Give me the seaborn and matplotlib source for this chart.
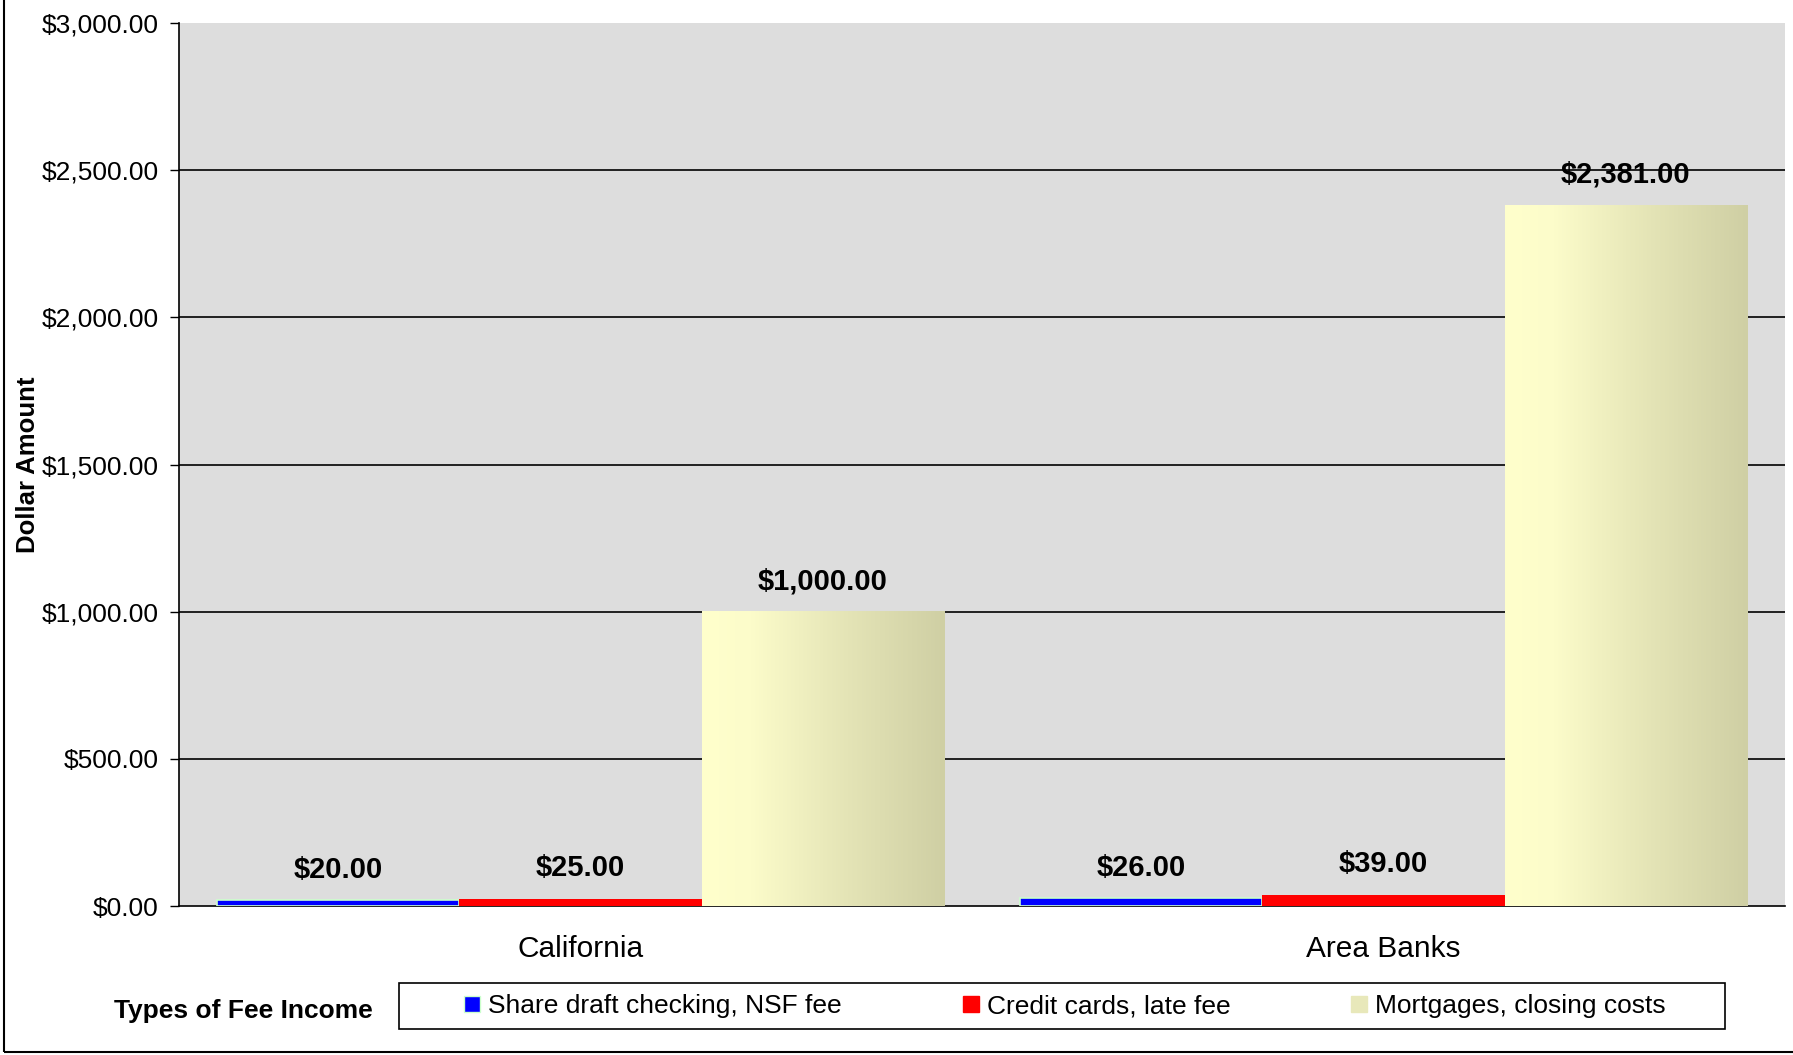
"""Fee income comparison: California vs area banks."""
import matplotlib
matplotlib.use("Agg")
import matplotlib.pyplot as plt
import numpy as np
import pandas as pd
import seaborn as sns
from matplotlib.colors import LinearSegmentedColormap
from matplotlib.lines import Line2D
from matplotlib.patches import Rectangle
from matplotlib.ticker import FuncFormatter, MultipleLocator

groups = ["California", "Area Banks"]
fee_types = ["Share draft checking, NSF fee", "Credit cards, late fee", "Mortgages, closing costs"]
nsf_fee = [20, 26]
late_fee = [25, 39]
closing_costs = [1000, 2381]
colors = ["#0000FF", "#FF0000", "#F2F2C4"]

df = pd.DataFrame({
    "group": groups * 3,
    "fee_type": [f for f in fee_types for _ in groups],
    "amount": nsf_fee + late_fee + closing_costs,
})

sns.set_style("white")
plt.rcParams["font.family"] = ["Liberation Sans", "DejaVu Sans"]
plt.rcParams["text.color"] = "black"
plt.rcParams["xtick.color"] = "black"
plt.rcParams["ytick.color"] = "black"
plt.rcParams["axes.labelcolor"] = "black"

fig = plt.figure(figsize=(17.93, 10.55), dpi=100)
ax = fig.add_axes([0.0998, 0.1412, 0.8957, 0.8368])
ax.set_facecolor("#DDDDDD")

sns.barplot(data=df, x="group", y="amount", hue="fee_type", hue_order=fee_types,
            palette=colors, saturation=1, width=0.906, gap=0, ax=ax, legend=False,
            zorder=3)

# light green edge on the blue bars, like the original
for bar in ax.containers[0]:
    bar.set_edgecolor("#CCFFCC")
    bar.set_linewidth(1.2)
for bar in ax.containers[1]:
    bar.set_linewidth(0)

# gradient fill for the mortgage bars
cmap = LinearSegmentedColormap.from_list(
    "khaki", [(0, "#FFFFCC"), (0.2, "#FCFCCA"), (0.6, "#E4E4B6"), (1, "#CFCFA4")])
grad = np.linspace(0, 1, 256).reshape(1, -1)
for bar in ax.containers[2]:
    x0, y0 = bar.get_x(), bar.get_y()
    w, h = bar.get_width(), bar.get_height()
    bar.set_facecolor("none")
    bar.set_linewidth(0)
    ax.imshow(grad, cmap=cmap, extent=[x0, x0 + w, y0, y0 + h], aspect="auto", zorder=3)

# value labels
for cont in ax.containers:
    for bar in cont:
        v = bar.get_height()
        ax.annotate(f"${v:,.2f}", (bar.get_x() + bar.get_width() / 2, v),
                    xytext=(0, 22), textcoords="offset points", ha="center", va="center",
                    fontsize=21, fontweight="bold", zorder=5)

ax.set_xlim(-0.5, 1.5)
ax.set_ylim(0, 3000)
ax.yaxis.set_major_locator(MultipleLocator(500))
ax.yaxis.set_major_formatter(FuncFormatter(lambda v, _: f"${v:,.2f}"))
# gridlines on the inner ticks only (no line along the top edge)
for yv in ax.get_yticks():
    if 0 < yv < 3000:
        ax.axhline(yv, color="black", linewidth=1.2, zorder=1)

ax.set_xticks([0, 1])
ax.set_xticklabels(groups, fontsize=21.5)
ax.set_xticks([0.5, 1.5], minor=True)
ax.tick_params(axis="x", which="major", length=0, pad=21)
ax.tick_params(axis="x", which="minor", length=6.5, width=1, color="black", direction="out")
ax.tick_params(axis="y", length=6.5, width=1, color="black", direction="out", pad=8,
               labelsize=19, left=True)

for side in ["top", "right"]:
    ax.spines[side].set_visible(False)
for side in ["left", "bottom"]:
    ax.spines[side].set_color("black")
    ax.spines[side].set_linewidth(1.2)

ax.set_xlabel("")
ax.set_ylabel("Dollar Amount", fontsize=18.5, fontweight="bold")
ax.yaxis.set_label_coords(-0.0865, 0.5)

handles = [
    Line2D([], [], marker="s", linestyle="", markersize=11, markerfacecolor=colors[0],
           markeredgecolor="#CCFFCC"),
    Line2D([], [], marker="s", linestyle="", markersize=11, markerfacecolor=colors[1],
           markeredgecolor=colors[1]),
    Line2D([], [], marker="s", linestyle="", markersize=11, markerfacecolor="#E8E8BA",
           markeredgecolor="#E8E8BA"),
]
leg = fig.legend(handles, fee_types, loc="center", bbox_to_anchor=(0.5925, 0.0464), ncol=3,
                 fontsize=19, frameon=False, handletextpad=0.1, handlelength=1.0,
                 columnspacing=4.4, borderpad=0.4)
# legend box, wider than the entries as in the original
fig.patches.append(Rectangle((0.2224, 0.025), 0.7399, 0.0434, transform=fig.transFigure,
                             fill=False, edgecolor="black", linewidth=1.2))
fig.text(0.1356, 0.0417, "Types of Fee Income", fontsize=19, fontweight="bold",
         ha="center", va="center")

# outer chart border
fig.patches.append(Rectangle((0.002, 0.003), 1.1, 1.1, transform=fig.transFigure,
                             fill=False, edgecolor="black", linewidth=1.5))

fig.savefig("out.png", dpi=100)
